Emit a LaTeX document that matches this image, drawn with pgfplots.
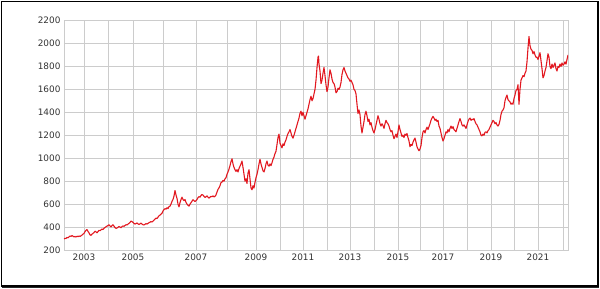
\documentclass[border=0pt]{standalone}
\usepackage{fontspec}
\setmainfont{DejaVu Sans}
\usepackage{pgfplots}
\pgfplotsset{compat=1.18}
\definecolor{gridgray}{RGB}{204,204,204}
\definecolor{labgray}{RGB}{50,50,50}
\definecolor{goldred}{RGB}{226,24,32}
\begin{document}
\begin{tikzpicture}
\begin{axis}[
  at={(0pt,0pt)}, anchor=south west,
  scale only axis, width=504pt, height=229.5pt,
  xmin=64, xmax=568, ymin=200, ymax=2200,
  ytick={200,400,...,2200},
  xtick={84,133,196,256,303,350,398,443,491,538},
  xticklabels={2003,2005,2007,2009,2011,2013,2015,2017,2019,2021},
  minor xtick={108,163,227,280,327,374,420,467,514,563},
  grid=both,
  major grid style={gridgray, line width=0.6pt},
  minor grid style={gridgray, line width=0.6pt},
  axis line style={gridgray, line width=0.6pt},
  major tick length=0pt, minor tick length=0pt,
  tick style={draw=none},
  /pgf/number format/assume math mode=true,
  /pgf/number format/1000 sep={},
  tick label style={font=\fontsize{8.9}{10}\selectfont, text=labgray},
  xticklabel style={yshift=-0.5pt},
]
\addplot[goldred, line width=1.1pt, line join=round] table {
x y
64 296
65 302
66 300
67 310
68 306
69 315
70 322
71 318
72 326
73 320
74 314
75 318
76 313
77 320
78 316
79 322
80 318
81 324
82 330
83 338
84 345
85 360
86 372
87 378
88 362
89 350
90 332
91 328
92 338
93 345
94 352
95 364
96 358
97 350
98 360
99 372
100 368
101 375
102 383
103 378
104 390
105 396
106 402
107 408
108 414
109 420
110 410
111 402
112 412
113 420
114 408
115 396
116 388
117 392
118 398
119 405
120 400
121 394
122 404
123 410
124 406
125 414
126 420
127 418
128 426
129 432
130 440
131 452
132 448
133 440
134 432
135 426
136 430
137 436
138 428
139 422
140 428
141 434
142 426
143 420
144 418
145 424
146 430
147 426
148 432
149 438
150 442
151 448
152 444
153 452
154 460
155 470
156 478
157 474
158 486
159 498
160 504
161 512
162 520
163 540
164 552
165 560
166 556
167 568
168 560
169 578
170 582
171 600
172 624
173 640
174 670
175 718
176 680
177 650
178 600
179 576
180 612
181 640
182 660
183 640
184 630
185 640
186 615
187 600
188 590
189 582
190 600
191 612
192 625
193 638
194 630
195 622
196 630
197 640
198 656
199 665
200 660
201 675
202 684
203 678
204 668
205 658
206 664
207 672
208 660
209 652
210 660
211 668
212 664
213 672
214 662
215 668
216 680
217 705
218 728
219 742
220 760
221 788
222 792
223 806
224 800
225 820
226 830
227 860
228 880
229 905
230 935
231 970
232 995
233 950
234 920
235 900
236 885
237 900
238 880
239 910
240 930
241 950
242 975
243 920
244 860
245 800
246 820
247 780
248 870
249 900
250 820
251 740
252 725
253 760
254 740
255 790
256 830
257 860
258 900
259 950
260 990
261 950
262 920
263 890
264 880
265 910
266 950
267 975
268 940
269 930
270 950
271 935
272 960
273 990
274 1010
275 1040
276 1060
277 1120
278 1180
279 1210
280 1130
281 1110
282 1090
283 1125
284 1110
285 1140
286 1160
287 1190
288 1215
289 1230
290 1250
291 1220
292 1190
293 1175
294 1200
295 1230
296 1260
297 1290
298 1320
299 1350
300 1390
301 1410
302 1370
303 1400
304 1370
305 1340
306 1370
307 1400
308 1430
309 1470
310 1510
311 1540
312 1500
313 1520
314 1560
315 1600
316 1680
317 1790
318 1880
318.5 1890
319 1820
320 1760
321 1650
322 1680
323 1740
324 1790
325 1720
326 1640
327 1580
328 1620
329 1700
330 1770
331 1740
332 1690
333 1660
334 1650
335 1620
336 1570
337 1580
338 1610
339 1600
340 1620
341 1660
342 1730
343 1770
344 1790
345 1760
346 1740
347 1720
348 1700
349 1690
350 1670
351 1680
352 1660
353 1640
354 1600
355 1590
356 1560
357 1470
358 1390
359 1420
360 1380
361 1280
362 1220
363 1270
364 1320
365 1380
366 1410
367 1370
368 1320
369 1340
370 1290
371 1310
372 1270
373 1240
374 1220
375 1250
376 1290
377 1330
378 1370
379 1340
380 1300
381 1280
382 1300
383 1285
384 1260
385 1300
386 1330
387 1310
388 1300
389 1280
390 1250
391 1230
392 1240
393 1200
394 1170
395 1190
396 1210
397 1180
398 1230
399 1290
400 1250
401 1220
402 1190
403 1200
404 1180
405 1210
406 1200
407 1215
408 1180
409 1150
410 1100
411 1120
412 1110
413 1140
414 1160
415 1175
416 1140
417 1100
418 1080
419 1065
420 1080
421 1110
422 1180
423 1230
424 1240
425 1220
426 1250
427 1270
428 1250
429 1275
430 1300
431 1330
432 1350
433 1365
434 1350
435 1330
436 1340
437 1320
438 1330
439 1280
440 1260
441 1220
442 1180
443 1150
444 1170
445 1200
446 1230
447 1220
448 1250
449 1230
450 1260
451 1280
452 1260
453 1275
454 1250
455 1240
456 1230
457 1260
458 1290
459 1320
460 1345
461 1320
462 1290
463 1280
464 1290
465 1275
466 1260
467 1290
468 1320
469 1340
470 1350
471 1330
472 1340
473 1335
474 1345
475 1320
476 1300
477 1290
478 1270
479 1250
480 1230
481 1200
482 1195
483 1210
484 1200
485 1225
486 1230
487 1220
488 1240
489 1250
490 1270
491 1290
492 1310
493 1330
494 1320
495 1300
496 1310
497 1290
498 1280
499 1295
500 1330
501 1380
502 1410
503 1420
504 1440
505 1500
506 1530
507 1550
508 1510
509 1500
510 1490
511 1470
512 1480
513 1470
514 1520
515 1550
516 1590
517 1600
518 1640
519 1470
520 1600
521 1680
522 1700
523 1720
524 1710
525 1740
526 1760
527 1840
528 1960
529 2060
530 1980
531 1950
532 1940
533 1910
534 1930
535 1900
536 1880
537 1880
538 1860
539 1890
540 1920
541 1850
542 1780
543 1700
544 1720
545 1760
546 1790
547 1850
548 1910
549 1880
550 1800
551 1780
552 1820
553 1790
554 1810
555 1830
556 1780
557 1760
558 1800
559 1790
560 1820
561 1800
562 1830
563 1810
564 1820
565 1840
566 1820
567 1860
568 1900
};
\end{axis}
\draw[black, line width=1.6pt] (-62.3pt,248.3pt) rectangle (534.2pt,-35.8pt);
\draw[black!85, line width=1.2pt] (-62pt,-37.4pt) -- (534.6pt,-37.4pt);
\pgfresetboundingbox
\path (-64pt,-39pt) rectangle (536pt,250pt);
\end{tikzpicture}
\end{document}
